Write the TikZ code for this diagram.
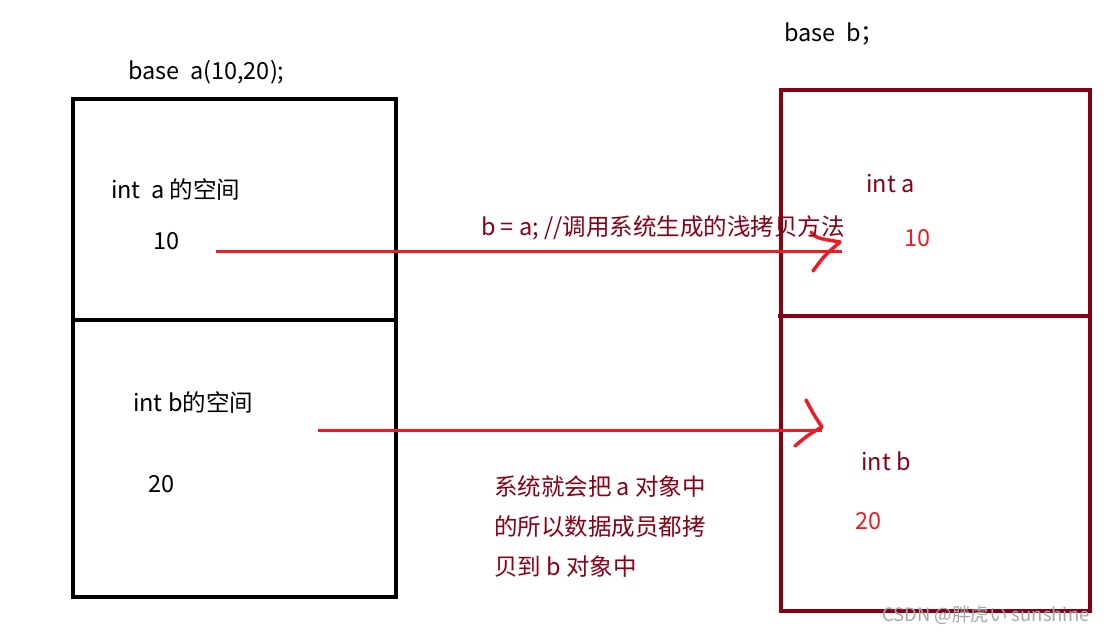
\documentclass[tikz,border=0pt]{standalone}
\usepackage{fontspec}
\setmainfont{Noto Sans CJK SC}
\definecolor{darkred}{HTML}{880015}
\definecolor{penred}{HTML}{ED1C24}
\usetikzlibrary{calc}
\tikzset{
  txt/.style={anchor=base west,inner sep=0pt,font=\fontsize{23.5}{28}\selectfont},
  pen/.style={penred,line width=3pt},
  hook/.style={penred,line width=3.5pt,line cap=round,line join=round}
}

\begin{document}
\begin{tikzpicture}[x=1pt,y=-1pt]
\useasboundingbox (0,0) rectangle (1114,634);
% left object
\draw[line width=4.5pt] (73,99) rectangle (396,597);
\draw[line width=4.5pt] (73,320)--(396,320);
\node[txt] (baseA) at (128,79) {base\ \ a(10,20);};
\node[txt] (intA) at (111,198) {int\ \ a 的空间};
\node[txt] (valA) at (153,249) {10};
\node[txt] (intB) at (133,411) {int b的空间};
\node[txt] (valB) at (148,492) {20};
% right object
\draw[darkred,line width=4pt] (781,90) rectangle (1090,611);
\draw[darkred,line width=4pt] (778,316)--(1090,316);
\node[txt] (baseB) at (784,42) {base\ \ b；};
\node[txt,darkred] (copyA) at (866,192) {int a};
\node[txt,penred] (copyValA) at (904,246) {10};
\node[txt,darkred] (copyB) at (861,470) {int b};
\node[txt,penred] (copyValB) at (855,529) {20};
% copy arrows
\coordinate (srcA) at (216,251);
\coordinate (dstA) at (842,251);
\coordinate (tipA) at (840,242);
\coordinate (srcB) at (318,430);
\coordinate (dstB) at (822,430);
\coordinate (tipB) at (822,427);
\draw[pen] (srcA)--(dstA);
\draw[hook] ($(tipA)+(-29,-10)$) .. controls ($(tipA)+(-24,-4)$) .. (tipA);
\draw[hook] ($(tipA)+(-27,29)$) .. controls ($(tipA)+(-16,14)$) .. (tipA);
\draw[pen] (srcB)--(dstB);
\draw[hook] ($(tipB)+(-16,-27)$) .. controls ($(tipB)+(-8,-12)$) .. (tipB);
\draw[hook] ($(tipB)+(-27,19)$) .. controls ($(tipB)+(-14,8)$) .. (tipB);
\node[txt,darkred] (call) at (481,235) {b = a; //调用系统生成的浅拷贝方法};
\node[txt,darkred] (note1) at (494,495) {系统就会把 a 对象中};
\node[txt,darkred] (note2) at (494,535) {的所以数据成员都拷};
\node[txt,darkred] (note3) at (494,575) {贝到 b 对象中};
\node[txt,gray!70,font=\fontsize{18.5}{22}\selectfont] (mark) at (882,621) {CSDN @胖虎い sunshine};
\end{tikzpicture}
\end{document}
